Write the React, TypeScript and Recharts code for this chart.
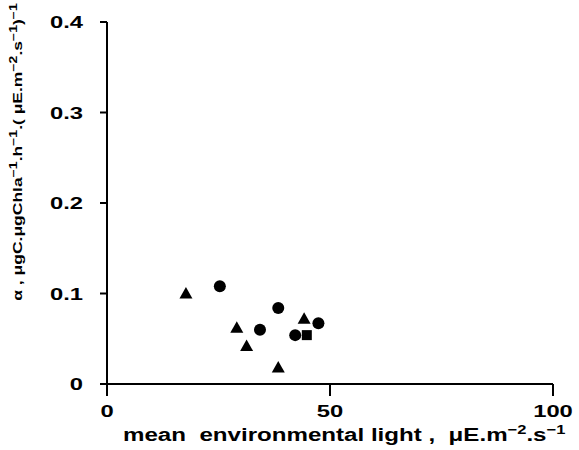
import { ScatterChart, Scatter, XAxis, YAxis } from "recharts";

// triangles
const triX = [17.7, 29.1, 31.3, 38.4, 44.2];
const triY = [0.099, 0.061, 0.041, 0.017, 0.071];
// circles
const dotX = [25.3, 38.4, 47.4, 34.3, 42.2];
const dotY = [0.108, 0.084, 0.067, 0.06, 0.054];
// square
const sqX = [44.8];
const sqY = [0.054];

const xTicks = [0, 50, 100];
const yTicks = [0, 0.1, 0.2, 0.3, 0.4];

const toPoints = (xs: number[], ys: number[]) => xs.map((x, i) => ({ x, y: ys[i] }));
const triangles = toPoints(triX, triY);
const circles = toPoints(dotX, dotY);
const squares = toPoints(sqX, sqY);

const FONT = "'Liberation Sans', Arial, Helvetica, sans-serif";
const WIDE = 1.4; // the original lettering is a wide bold grotesque

const Triangle = (p: any) => (
  <polygon
    points={`${p.cx},${p.cy - 7.5} ${p.cx - 6.5},${p.cy + 4} ${p.cx + 6.5},${p.cy + 4}`}
    fill="#000"
  />
);
const Dot = (p: any) => <circle cx={p.cx} cy={p.cy} r={6} fill="#000" />;
const Square = (p: any) => <rect x={p.cx - 5} y={p.cy - 5} width={10} height={10} fill="#000" />;

const YTick = (p: any) => (
  <text
    transform={`translate(${p.x},${p.y}) scale(${WIDE},1)`}
    textAnchor="end"
    dy="0.355em"
    fontFamily={FONT}
    fontWeight="bold"
    fontSize={17}
    fill="#000"
  >
    {p.payload.value}
  </text>
);

const XTick = (p: any) => (
  <text
    transform={`translate(${p.x},417) scale(${WIDE},1)`}
    textAnchor="middle"
    fontFamily={FONT}
    fontWeight="bold"
    fontSize={17}
    fill="#000"
  >
    {p.payload.value}
  </text>
);

const XTitle = () => (
  <text
    transform={`translate(123,441) scale(1.27,1)`}
    fontFamily={FONT}
    fontWeight="bold"
    fontSize={19}
    fill="#000"
    style={{ whiteSpace: "pre" }}
  >
    <tspan>{"mean  environmental light ,  μE.m"}</tspan>
    <tspan dy={-7} fontSize={13}>−2</tspan>
    <tspan dy={7}>.s</tspan>
    <tspan dy={-7} fontSize={13}>−1</tspan>
  </text>
);

const YTitle = () => (
  <text
    transform={`translate(22,152) rotate(-90) scale(1.4,1)`}
    textAnchor="middle"
    fontFamily={FONT}
    fontWeight="bold"
    fontSize={12.5}
    fill="#000"
    style={{ whiteSpace: "pre" }}
  >
    <tspan>{"α , μgC.μgChla"}</tspan>
    <tspan dy={-5} fontSize={10}>−1</tspan>
    <tspan dy={5}>.h</tspan>
    <tspan dy={-5} fontSize={10}>−1</tspan>
    <tspan dy={5}>{".( μE.m"}</tspan>
    <tspan dy={-5} fontSize={10}>−2</tspan>
    <tspan dy={5}>.s</tspan>
    <tspan dy={-5} fontSize={10}>−1</tspan>
    <tspan dy={5}>)</tspan>
    <tspan dy={-5} fontSize={10}>−1</tspan>
  </text>
);

export default function App() {
  return (
    <div style={{ position: "absolute", left: 0, top: 0, background: "#fff" }}>
      <ScatterChart width={579} height={450} margin={{ top: 22, right: 26, bottom: 26, left: 0 }}>
        <XAxis
          type="number"
          dataKey="x"
          domain={[0, 100]}
          ticks={xTicks}
          height={40}
          stroke="#000"
          strokeWidth={2}
          tickSize={12}
          tick={<XTick />}
          label={<XTitle />}
        />
        <YAxis
          type="number"
          dataKey="y"
          domain={[0, 0.4]}
          ticks={yTicks}
          width={107}
          stroke="#000"
          strokeWidth={2}
          tickSize={7}
          tickMargin={17}
          tick={<YTick />}
          label={<YTitle />}
        />
        <Scatter data={triangles} shape={<Triangle />} isAnimationActive={false} />
        <Scatter data={circles} shape={<Dot />} isAnimationActive={false} />
        <Scatter data={squares} shape={<Square />} isAnimationActive={false} />
      </ScatterChart>
    </div>
  );
}
